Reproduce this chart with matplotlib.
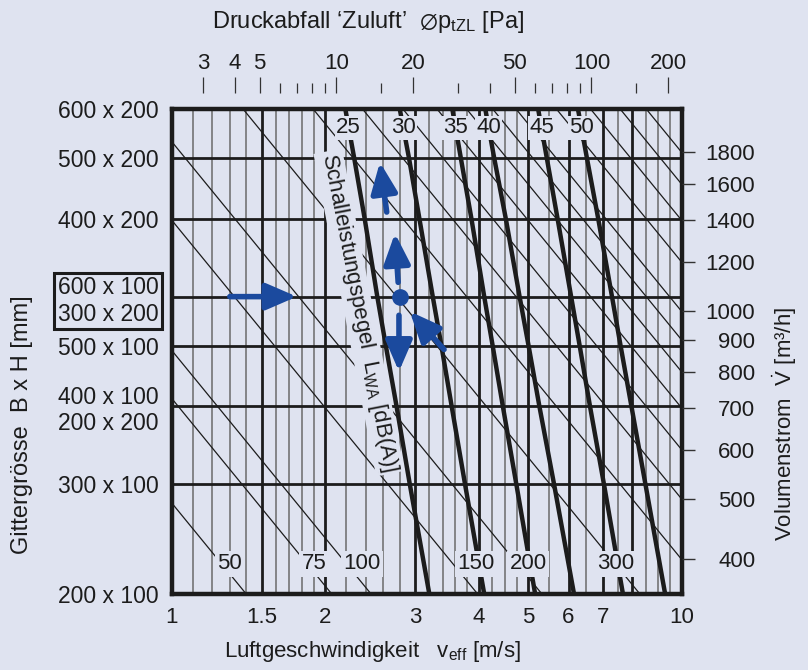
import numpy as np
import matplotlib
matplotlib.use('Agg')
import matplotlib.pyplot as plt
from matplotlib.ticker import NullLocator, NullFormatter

plt.rcParams['font.family'] = ['Liberation Sans', 'DejaVu Sans']
plt.rcParams['mathtext.fontset'] = 'custom'
plt.rcParams['mathtext.rm'] = 'Liberation Sans'
plt.rcParams['mathtext.it'] = 'Liberation Sans:italic'
plt.rcParams['mathtext.fallback'] = 'stixsans'

BG = '#dfe3f0'
BLUE = '#1b4a9e'
INK = '#1c1c1c'
FS = 16

# grille rows (nominal area in mm2) and their labels, top -> bottom
grille_area = [120000, 100000, 80000, 60000, 50000, 40000, 30000, 20000]
grille_label = ['600 x 200', '500 x 200', '400 x 200', '600 x 100\n300 x 200',
                '500 x 100', '400 x 100\n200 x 200', '300 x 100', '200 x 100']

# velocity axis
v_ticks = [1, 1.5, 2, 3, 4, 5, 6, 7, 10]
v_grid_thin = [1.1, 1.2, 1.3, 1.4, 1.6, 1.7, 1.8, 1.9, 2.2, 2.4, 2.6, 2.8,
               3.2, 3.4, 3.6, 3.8, 4.25, 4.5, 4.75, 5.5, 6.5, 7.5, 8.5, 9, 9.5]
v_grid_thick = [1.5, 2, 3, 4, 5, 6, 7, 8]

# sound power level curves: velocity where each curve crosses each grille row
lwa_levels = [25, 30, 35, 40, 45, 50]
lwa_v = [
    [2.19, 2.28, 2.39, 2.53, 2.63, 2.76, 2.93, 3.20],
    [2.80, 2.92, 3.06, 3.25, 3.38, 3.54, 3.76, 4.10],
    [3.55, 3.69, 3.87, 4.10, 4.26, 4.46, 4.74, 5.16],
    [4.12, 4.29, 4.52, 4.81, 5.01, 5.26, 5.62, 6.15],
    [5.23, 5.44, 5.71, 6.07, 6.31, 6.61, 7.04, 7.67],
    [6.26, 6.52, 6.86, 7.30, 7.59, 7.97, 8.49, 9.28],
]
lwa_label_area = 112000

# volume flow lines, small flows: velocity where they meet the 200 x 100 row
flow_low = [50, 75, 100, 150, 200, 300]
flow_low_v = [1.40, 2.06, 2.46, 3.98, 5.32, 8.28]
flow_label_v = [1.30, 1.90, 2.36, 3.95, 5.00, 7.43]
flow_label_area = 22350

# volume flow lines, large flows: end on the right scale at 10 m/s
flow_ticks = [400, 500, 600, 700, 800, 900, 1000, 1200, 1400, 1600, 1800]
area_per_flow = 56.8

# pressure drop scale (top)
dp_at_1ms = 2.26
dp_major = [3, 4, 5, 10, 20, 50, 100, 200]
dp_minor = [6, 7, 8, 9, 15, 30, 40, 60, 70, 80, 90, 150]

# example reading (velocity, area)
dot = (2.80, 60000)
arrows = [
    ((1.30, 60000), (1.76, 60000)),
    ((3.42, 49360), (2.93, 56800)),
    ((2.78, 63250), (2.74, 75800)),
    ((2.64, 82000), (2.56, 98600)),
    ((2.79, 56000), (2.79, 45500)),
]

fig = plt.figure(figsize=(8.08, 6.70), dpi=100, facecolor=BG)
ax = fig.add_axes([171.7 / 808, 76 / 670, 510 / 808, 485 / 670])
ax.set_facecolor(BG)
ax.set_xscale('log')
ax.set_yscale('log')
ax.set_xlim(1, 10)
ax.set_ylim(20000, 120000)

ax.set_xticks(v_ticks, labels=[f'{t:g}' for t in v_ticks])
ax.set_yticks(grille_area, labels=grille_label)
ax.xaxis.set_minor_locator(NullLocator())
ax.yaxis.set_minor_locator(NullLocator())
ax.tick_params(axis='both', length=0, labelsize=FS, pad=9.5, colors=INK)
ax.tick_params(axis='y', labelsize=16.5)
for lab in ax.get_yticklabels():
    if lab.get_text().startswith('600 x 100'):
        lab.set_bbox(dict(boxstyle='square,pad=0.15', fc='none', ec=INK, lw=2.2))

for v in v_grid_thin:
    ax.axvline(v, color='#6a6a6a', lw=1.1, zorder=1)
for v in v_grid_thick:
    ax.axvline(v, color=INK, lw=2.0, zorder=1.2)
for a in grille_area:
    ax.axhline(a, color=INK, lw=2.0, zorder=1.4)

vv = np.array([1.0, 10.0])
for vb in flow_low_v:
    ax.plot(vv, 20000 * vb / vv, color=INK, lw=0.9, zorder=1.5)
for q in flow_ticks:
    ax.plot(vv, q * area_per_flow * 10 / vv, color=INK, lw=0.9, zorder=1.5)

logA = np.log(grille_area[::-1])
for lev, vs in zip(lwa_levels, lwa_v):
    ax.plot(vs, grille_area, color=INK, lw=3.2, zorder=3, solid_capstyle='butt')
    xl = np.exp(np.interp(np.log(lwa_label_area), logA, np.log(vs[::-1])))
    ax.text(xl, lwa_label_area, str(lev), ha='center', va='center', fontsize=FS,
            color=INK, zorder=4, bbox=dict(fc=BG, ec='none', pad=1.0))

for q, xl in zip(flow_low, flow_label_v):
    ax.text(xl, flow_label_area, str(q), ha='center', va='center', fontsize=FS,
            color=INK, zorder=4, bbox=dict(fc=BG, ec='none', pad=2.0))

ax.text(2.33, 56600, 'Schalleistungspegel  $\\mathregular{L_{WA}}$ [dB(A)]',
        rotation=-79, rotation_mode='anchor', ha='center', va='center',
        fontsize=FS, color=INK, zorder=4, bbox=dict(fc=BG, ec='none', pad=1.5))

for (x0, y0), (x1, y1) in arrows:
    ax.annotate('', xy=(x1, y1), xytext=(x0, y0), zorder=6,
                arrowprops=dict(arrowstyle='-|>,head_length=1.85,head_width=0.8',
                                mutation_scale=10, lw=4, color=BLUE,
                                shrinkA=0, shrinkB=0))
ax.plot(*dot, 'o', ms=11, color=BLUE, zorder=6)

for s in ax.spines.values():
    s.set_linewidth(3.2)
    s.set_color(INK)
    s.set_zorder(5)

# right scale: volume flow
ax_r = ax.twinx()
ax_r.set_yscale('log')
ax_r.set_ylim(20000 / area_per_flow, 120000 / area_per_flow)
ax_r.set_yticks(flow_ticks, labels=[str(q) for q in flow_ticks])
ax_r.yaxis.set_minor_locator(NullLocator())
ax_r.tick_params(axis='y', direction='out', length=9, width=1.0, color='#333333',
                 labelsize=FS, pad=44, labelcolor=INK)
for lab in ax_r.get_yticklabels():
    lab.set_ha('right')
for s in ax_r.spines.values():
    s.set_visible(False)

# top scale: pressure drop
ax_t = ax.twiny()
ax_t.set_xscale('log')
ax_t.set_xlim(dp_at_1ms, dp_at_1ms * 100)
ax_t.set_xticks(dp_major, labels=[str(p) for p in dp_major])
ax_t.set_xticks(dp_minor, minor=True)
ax_t.xaxis.set_minor_formatter(NullFormatter())
ax_t.tick_params(axis='x', which='major', direction='out', length=11.5, width=0.9,
                 color='#333333', labelsize=FS, pad=2.5, labelcolor=INK)
ax_t.tick_params(axis='x', which='minor', direction='out', length=7.2, width=0.9,
                 color='#333333')
ax_t.spines['top'].set_position(('outward', 11.5))
ax_t.spines['top'].set_color('none')
for side in ['left', 'right', 'bottom']:
    ax_t.spines[side].set_visible(False)

fig.text(368 / 808, 1 - 22 / 670,
         'Druckabfall \u2018Zuluft\u2019  $\\emptyset\\mathregular{p_{tZL}}$ [Pa]',
         ha='center', va='center', fontsize=17, color=INK)
fig.text(372 / 808, 1 - 652 / 670, 'Luftgeschwindigkeit   $\\mathregular{v_{eff}}$ [m/s]',
         ha='center', va='center', fontsize=FS, color=INK)
fig.text(22 / 808, 1 - 425 / 670, 'Gittergrösse  B x H [mm]', rotation=90,
         ha='center', va='center', fontsize=17, color=INK)
fig.text(785 / 808, 1 - 424 / 670, 'Volumenstrom  $\\dot{\\mathrm{V}}$ [m\u00b3/h]', rotation=90,
         ha='center', va='center', fontsize=FS, color=INK)

fig.savefig('out.png', dpi=100, facecolor=BG)
